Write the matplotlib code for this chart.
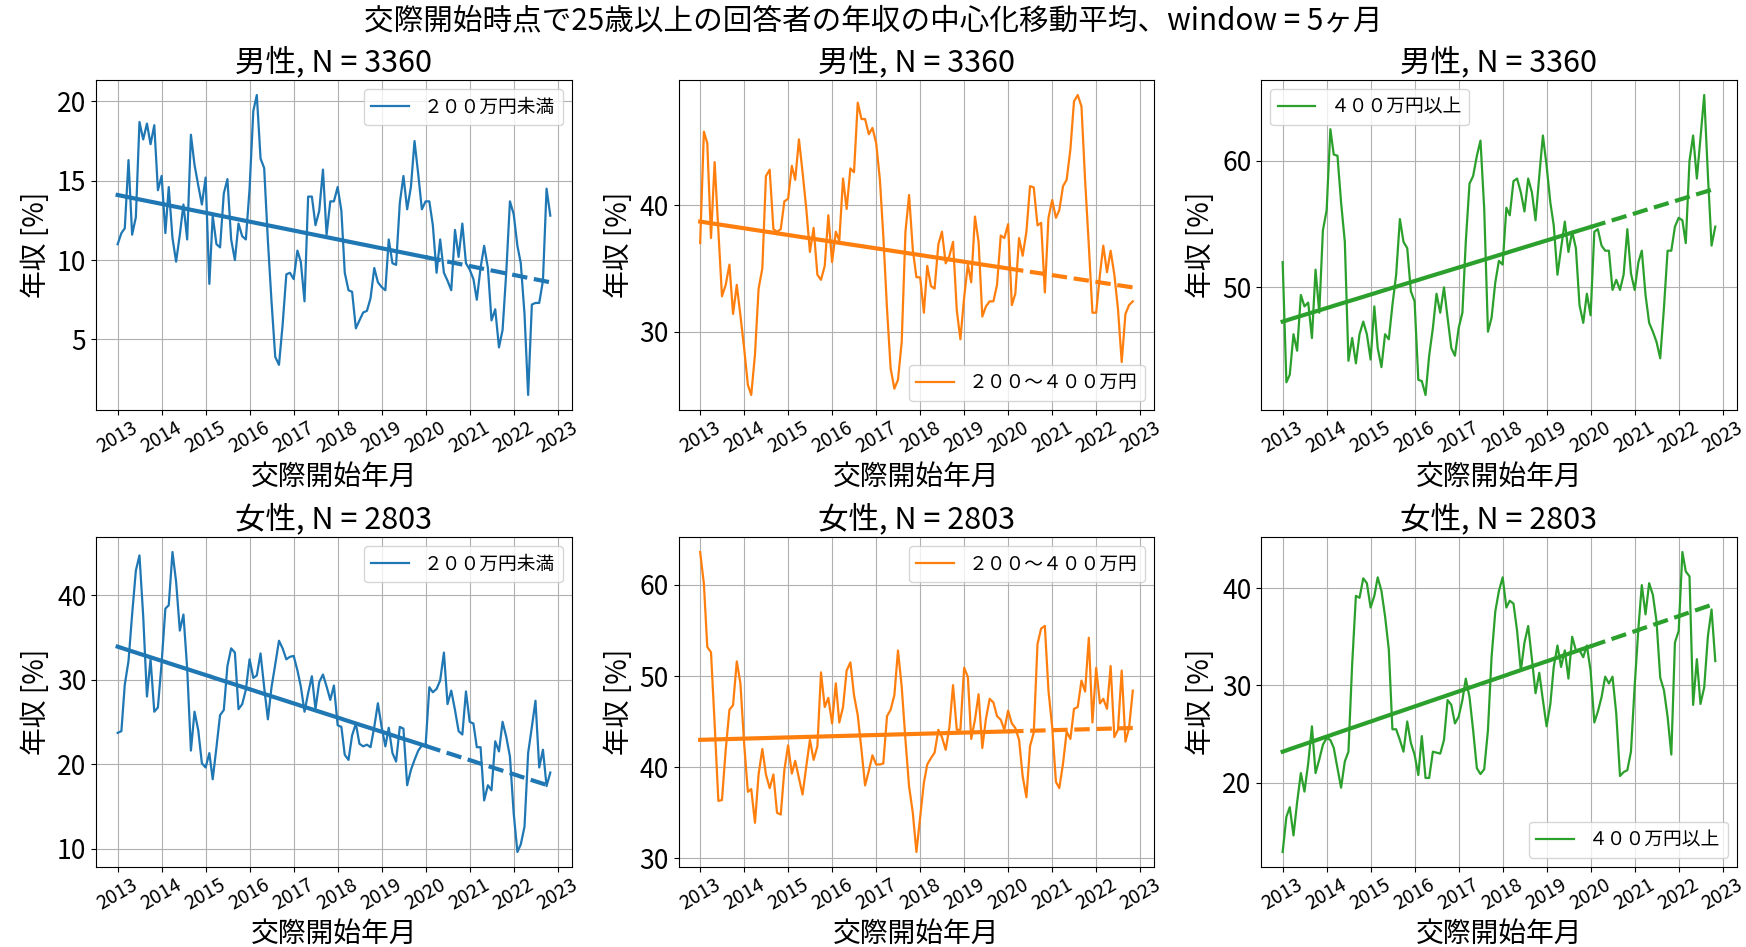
import matplotlib.pyplot as plt
import matplotlib.dates as mdates
import numpy as np
import pandas as pd

plt.rcParams['font.family'] = ['Noto Sans CJK JP', 'DejaVu Sans']

# 月次データ 2013-01 〜 2022-11
months = pd.date_range('2013-01-01', periods=119, freq='MS')
n_fit = 84  # 2020-01 まで実線

male_low = [
    11.0, 11.7, 12.0, 16.3, 11.6, 12.7, 18.7, 17.6, 18.6, 17.3, 18.5, 14.4,
    15.3, 11.7, 14.6, 11.4, 9.9, 11.6, 13.5, 11.3, 17.9, 16.0, 14.7, 13.5,
    15.2, 8.5, 12.8, 11.0, 10.8, 14.2, 15.1, 11.3, 10.0, 12.3, 11.5, 11.3,
    14.5, 19.4, 20.4, 16.4, 15.8, 11.2, 7.4, 3.9, 3.4, 5.9, 9.1, 9.2,
    8.8, 10.6, 9.9, 7.4, 14.0, 14.0, 12.2, 13.1, 15.7, 11.6, 13.7, 13.7,
    14.6, 13.1, 9.2, 8.1, 8.0, 5.7, 6.2, 6.7, 6.8, 7.6, 9.5, 8.6,
    8.3, 8.1, 11.3, 9.8, 9.7, 13.6, 15.3, 13.2, 14.6, 17.5, 15.4, 13.2,
    13.7, 13.7, 12.2, 9.2, 11.3, 9.2, 8.7, 8.1, 11.9, 10.2, 12.3, 9.8,
    9.4, 8.8, 7.5, 9.5, 10.9, 9.5, 6.2, 6.9, 4.5, 5.6, 9.3, 13.7,
    12.9, 10.9, 9.8, 6.6, 1.5, 7.2, 7.3, 7.3, 8.7, 14.5, 12.8,
]
male_mid = [
    37.0, 45.8, 44.9, 37.4, 43.4, 38.0, 32.8, 33.7, 35.3, 31.4, 33.7, 31.3,
    28.7, 25.8, 25.0, 28.2, 33.4, 35.0, 42.3, 42.8, 38.1, 37.9, 38.1, 40.3,
    40.5, 43.1, 42.0, 45.2, 42.6, 39.7, 36.3, 38.2, 34.5, 34.1, 35.2, 39.2,
    35.5, 37.9, 37.2, 42.1, 39.7, 42.9, 42.6, 48.1, 46.8, 46.8, 45.6, 46.1,
    44.9, 42.0, 37.6, 31.8, 27.1, 25.5, 26.2, 29.2, 37.9, 40.8, 36.5, 34.3,
    34.3, 31.5, 35.2, 33.6, 33.4, 36.9, 37.9, 35.4, 36.0, 37.1, 31.7, 29.4,
    32.7, 35.3, 33.9, 39.1, 37.1, 31.2, 32.0, 32.4, 32.4, 33.7, 37.6, 37.4,
    38.5, 32.1, 33.0, 37.4, 36.0, 37.9, 41.5, 41.4, 38.4, 38.6, 33.1, 39.0,
    40.4, 39.0, 39.6, 41.5, 42.0, 44.4, 48.2, 48.7, 47.8, 42.0, 36.8, 31.5,
    31.5, 34.5, 36.8, 34.7, 36.4, 34.5, 31.8, 27.6, 31.4, 32.1, 32.4,
]
male_high = [
    52.0, 42.5, 43.1, 46.3, 45.0, 49.4, 48.5, 48.8, 46.0, 51.4, 48.0, 54.5,
    56.1, 62.5, 60.5, 60.4, 56.7, 53.6, 44.2, 46.0, 44.0, 46.3, 47.3, 46.3,
    44.3, 48.5, 45.2, 43.7, 46.3, 45.9, 48.6, 51.0, 55.4, 53.6, 53.1, 49.7,
    48.9, 42.7, 42.6, 41.5, 44.6, 46.8, 49.5, 48.0, 50.0, 47.6, 45.2, 44.6,
    46.8, 48.0, 53.6, 58.2, 58.8, 60.4, 61.6, 56.2, 46.5, 47.6, 50.4, 52.1,
    51.8, 56.3, 55.7, 58.4, 58.6, 57.5, 56.0, 58.6, 57.5, 55.3, 58.8, 62.0,
    59.6, 56.7, 54.9, 51.0, 53.1, 55.2, 52.8, 54.4, 53.1, 48.6, 47.2, 49.5,
    47.8, 54.4, 54.6, 53.3, 52.9, 52.9, 49.8, 50.6, 49.8, 51.0, 54.6, 51.1,
    49.8, 52.0, 52.9, 49.4, 47.2, 46.5, 45.7, 44.4, 48.4, 52.9, 52.9, 54.8,
    55.5, 55.3, 53.5, 60.0, 62.0, 58.6, 61.8, 65.2, 58.8, 53.3, 54.8,
]
female_low = [
    23.7, 23.9, 29.4, 32.2, 37.7, 42.9, 44.7, 37.5, 28.0, 32.4, 26.2, 26.7,
    32.0, 38.4, 38.8, 45.1, 41.6, 35.8, 37.7, 31.3, 21.6, 26.2, 24.0, 20.1,
    19.6, 21.3, 18.2, 22.0, 25.8, 26.4, 31.6, 33.7, 33.2, 26.5, 27.1, 28.8,
    32.4, 30.2, 30.5, 33.1, 29.1, 25.3, 29.1, 31.8, 34.6, 33.7, 32.4, 32.7,
    32.8, 31.1, 29.2, 26.2, 28.4, 30.4, 26.5, 29.7, 30.6, 29.2, 27.6, 29.3,
    24.6, 24.4, 21.1, 20.5, 23.4, 24.8, 22.4, 22.1, 22.3, 22.0, 24.4, 27.2,
    24.4, 22.1, 24.3, 21.3, 20.3, 24.4, 24.2, 17.5, 19.3, 20.5, 21.6, 22.2,
    22.2, 29.1, 28.5, 28.9, 29.9, 33.2, 27.1, 28.7, 26.4, 23.9, 23.5, 28.6,
    25.0, 24.8, 22.0, 22.0, 15.7, 17.5, 16.9, 22.7, 21.5, 25.0, 23.2, 20.9,
    14.2, 9.6, 10.5, 12.6, 21.3, 24.4, 27.5, 19.6, 21.7, 17.4, 19.0,
]
female_mid = [
    63.6, 60.1, 53.2, 52.6, 44.8, 36.3, 36.4, 41.9, 46.3, 46.8, 51.6, 49.2,
    42.6, 37.3, 37.6, 33.9, 39.2, 42.0, 39.2, 37.7, 39.2, 35.0, 34.8, 39.7,
    42.4, 39.3, 40.7, 38.8, 37.0, 40.1, 43.0, 40.8, 42.3, 50.4, 46.6, 47.6,
    44.8, 49.2, 44.9, 46.6, 50.6, 51.5, 47.9, 45.7, 41.9, 38.0, 39.6, 41.3,
    40.3, 40.3, 40.4, 45.6, 46.3, 47.9, 52.8, 48.8, 43.0, 37.9, 35.0, 30.7,
    34.5, 38.3, 40.3, 41.0, 41.6, 44.1, 43.3, 41.9, 44.4, 49.0, 44.1, 44.1,
    50.9, 49.9, 43.1, 45.2, 48.0, 42.1, 45.3, 47.5, 47.1, 45.6, 45.2, 44.1,
    46.2, 44.8, 44.3, 43.0, 39.0, 36.7, 42.3, 43.8, 53.5, 55.2, 55.5, 48.4,
    44.4, 38.4, 37.7, 40.4, 43.9, 43.1, 46.4, 46.6, 49.5, 48.3, 54.2, 44.9,
    50.9, 47.0, 47.5, 46.4, 51.1, 43.3, 44.1, 50.6, 42.8, 44.3, 48.4,
]
female_high = [
    12.9, 16.5, 17.5, 14.6, 18.0, 21.0, 19.1, 22.0, 25.8, 21.0, 22.4, 23.9,
    24.6, 24.4, 23.6, 21.5, 19.5, 22.2, 23.2, 32.2, 39.2, 39.0, 41.0, 40.5,
    38.0, 39.2, 41.1, 39.7, 37.1, 33.7, 25.5, 25.5, 24.4, 23.2, 26.3, 24.1,
    22.9, 20.8, 24.8, 20.5, 20.5, 23.2, 23.1, 23.0, 24.4, 28.5, 28.0, 26.1,
    26.8, 28.5, 30.7, 28.8, 25.4, 21.5, 20.9, 21.4, 25.4, 32.9, 37.6, 39.7,
    41.1, 38.0, 38.7, 38.4, 35.6, 31.5, 34.4, 36.1, 32.7, 29.2, 31.3, 28.5,
    25.8, 28.1, 31.9, 34.1, 31.9, 33.6, 30.7, 35.0, 33.6, 33.6, 32.9, 34.1,
    31.5, 26.2, 27.3, 28.8, 30.9, 30.2, 30.9, 27.1, 20.7, 21.1, 21.3, 23.2,
    30.0, 35.9, 40.3, 37.3, 40.5, 39.3, 36.6, 30.8, 29.5, 26.8, 22.9, 34.4,
    35.6, 43.7, 41.7, 41.2, 28.0, 32.7, 28.1, 29.8, 35.1, 37.8, 32.5,
]

# 回帰直線の両端 (2013-01, 2022-11) の値
trend_start = [[14.1, 38.7, 47.3], [33.9, 43.0, 23.2]]
trend_end = [[8.6, 33.5, 57.8], [17.4, 44.3, 38.4]]

titles = ["男性, N = 3360", "女性, N = 2803"]
labels = ["２００万円未満", "２００～４００万円", "４００万円以上"]
colors = ["tab:blue", "tab:orange", "tab:green"]
data = [[male_low, male_mid, male_high], [female_low, female_mid, female_high]]
legend_loc = [["upper right", "lower right", "upper left"],
              ["upper right", "upper right", "lower right"]]
yticks = [[[5, 10, 15, 20], [30, 40], [50, 60]],
          [[10, 20, 30, 40], [30, 40, 50, 60], [20, 30, 40]]]

fig, axes = plt.subplots(2, 3, figsize=(17.46, 9.47), dpi=100)
fig.subplots_adjust(left=0.055, right=0.9948, bottom=0.0845, top=0.9155,
                    wspace=0.224, hspace=0.385)

idx = np.arange(len(months))
for i in range(2):
    for j in range(3):
        ax = axes[i, j]
        y = np.array(data[i][j])
        ax.plot(months, y, color=colors[j], lw=1.6, label=labels[j])

        # 2020年までは実線、それ以降は外挿 (破線)
        t0, t1 = trend_start[i][j], trend_end[i][j]
        trend = t0 + (t1 - t0) * idx / idx[-1]
        ax.plot(months[:n_fit + 1], trend[:n_fit + 1], color=colors[j], lw=3)
        ax.plot(months[n_fit:], trend[n_fit:], color=colors[j], lw=3, ls="--")

        ax.set_title(titles[i], fontsize=22)
        ax.set_xlabel("交際開始年月", fontsize=20, labelpad=3)
        ax.set_ylabel("年収 [%]", fontsize=20)
        ax.set_yticks(yticks[i][j])
        ax.xaxis.set_major_locator(mdates.YearLocator(1))
        ax.xaxis.set_major_formatter(mdates.DateFormatter("%Y"))
        ax.tick_params(axis="y", labelsize=19)
        ax.tick_params(axis="x", labelsize=14, labelrotation=30, pad=2)
        ax.grid(True)
        ax.legend(loc=legend_loc[i][j], fontsize=13.5)

fig.suptitle("交際開始時点で25歳以上の回答者の年収の中心化移動平均、window = 5ヶ月",
             fontsize=21.3, y=0.978, va="center")

plt.savefig("out.png", dpi=100)
